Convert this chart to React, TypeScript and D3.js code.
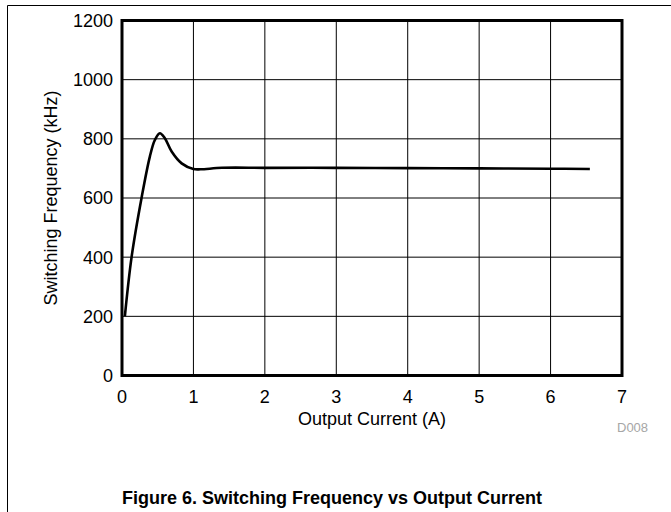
import * as d3 from "d3";

const WIDTH = 671;
const HEIGHT = 512;
const PLOT_LEFT = 122;
const PLOT_RIGHT = 622;
const PLOT_TOP = 20.5;
const PLOT_BOTTOM = 375.5;

const outputCurrent = [0.04, 0.135, 0.275, 0.39, 0.46, 0.53, 0.6, 0.695, 0.835, 1.0, 1.1, 1.4, 2, 3, 4, 5, 6, 6.55];
const switchingFreq = [200, 402, 602, 740, 796, 819, 802, 757, 717, 698, 697, 702, 702, 702, 701, 700, 699, 698];

const xTicks = [0, 1, 2, 3, 4, 5, 6, 7];
const yTicks = [0, 200, 400, 600, 800, 1000, 1200];

const FONT = "Liberation Sans, Arial, sans-serif";

export default function App() {
  const x = d3.scaleLinear().domain([0, 7]).range([PLOT_LEFT, PLOT_RIGHT]);
  const y = d3.scaleLinear().domain([0, 1200]).range([PLOT_BOTTOM, PLOT_TOP]);

  const points: [number, number][] = outputCurrent.map((c, i) => [c, switchingFreq[i]]);
  const line = d3
    .line<[number, number]>()
    .x((d) => x(d[0]))
    .y((d) => y(d[1]))
    .curve(d3.curveCatmullRom.alpha(0.5));

  return (
    <svg
      width={WIDTH}
      height={HEIGHT}
      style={{ position: "absolute", left: 0, top: 0, background: "#fff" }}
      fontFamily={FONT}
    >
      {/* page frame */}
      <line x1={7.5} y1={5.5} x2={WIDTH} y2={5.5} stroke="#000" strokeWidth={1} />
      <line x1={7.5} y1={5.5} x2={7.5} y2={HEIGHT} stroke="#000" strokeWidth={1} />

      {/* grid */}
      {xTicks.slice(1, -1).map((t) => (
        <line key={"gx" + t} x1={x(t)} x2={x(t)} y1={PLOT_TOP} y2={PLOT_BOTTOM} stroke="#000" strokeWidth={1} />
      ))}
      {yTicks.slice(1, -1).map((t) => (
        <line key={"gy" + t} x1={PLOT_LEFT} x2={PLOT_RIGHT} y1={y(t)} y2={y(t)} stroke="#000" strokeWidth={1} />
      ))}

      {/* curve */}
      <path d={line(points) ?? ""} fill="none" stroke="#000" strokeWidth={2.6} strokeLinejoin="round" />

      {/* plot border */}
      <rect
        x={PLOT_LEFT}
        y={PLOT_TOP}
        width={PLOT_RIGHT - PLOT_LEFT}
        height={PLOT_BOTTOM - PLOT_TOP}
        fill="none"
        stroke="#000"
        strokeWidth={3}
      />

      {/* tick labels */}
      {yTicks.map((t) => (
        <text key={"ly" + t} x={113} y={y(t)} dy="0.36em" textAnchor="end" fontSize={18} fill="#000">
          {t}
        </text>
      ))}
      {xTicks.map((t) => (
        <text key={"lx" + t} x={x(t)} y={403} textAnchor="middle" fontSize={18} fill="#000">
          {t}
        </text>
      ))}

      {/* axis titles */}
      <text x={(PLOT_LEFT + PLOT_RIGHT) / 2} y={425} textAnchor="middle" fontSize={18} fill="#000">
        Output Current (A)
      </text>
      <text
        transform={`translate(56.5, ${(PLOT_TOP + PLOT_BOTTOM) / 2}) rotate(-90)`}
        textAnchor="middle"
        fontSize={18}
        fill="#000"
      >
        Switching Frequency (kHz)
      </text>

      <text x={617} y={431.5} fontSize={13} fill="#a6a6a6">
        D008
      </text>

      <text x={332} y={504} textAnchor="middle" fontSize={18} fontWeight="bold" fill="#000">
        Figure 6. Switching Frequency vs Output Current
      </text>
    </svg>
  );
}
